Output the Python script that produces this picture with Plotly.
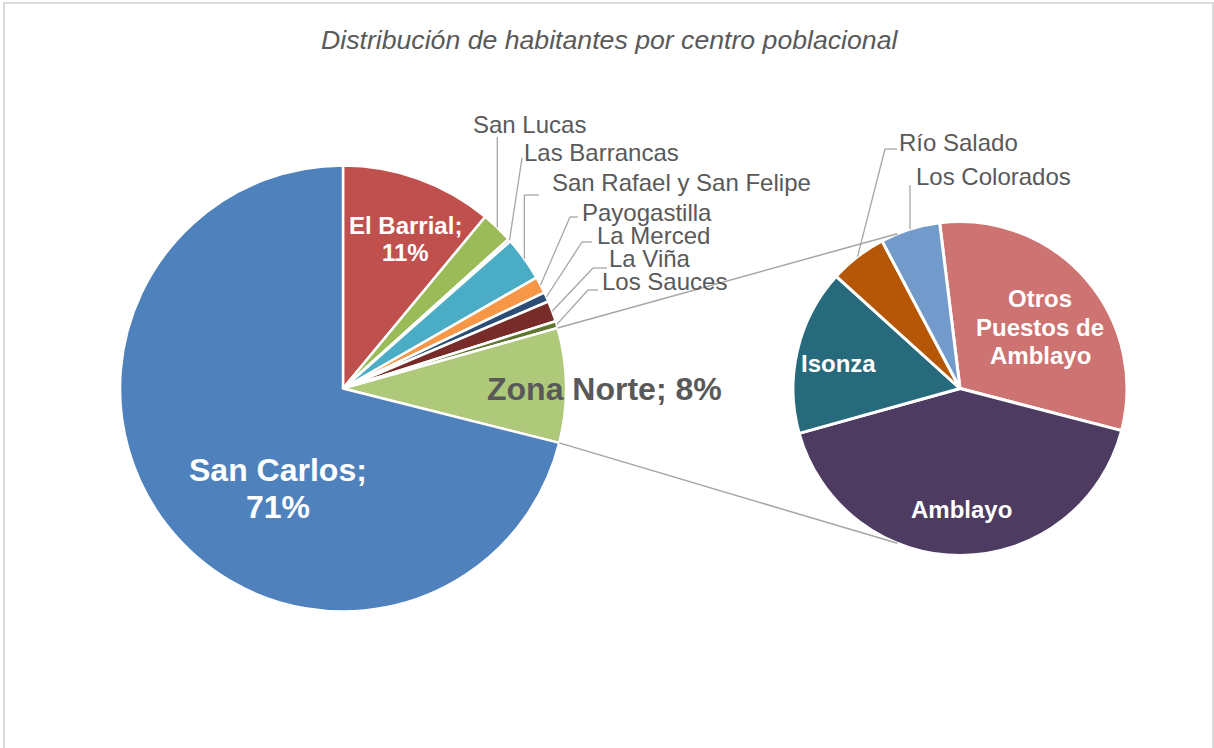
import math
import plotly.graph_objects as go

# Habitantes por centro poblacional (% del total)
centros = ["San Carlos", "El Barrial", "San Lucas", "Las Barrancas",
           "San Rafael y San Felipe", "Payogastilla", "La Merced",
           "La Viña", "Los Sauces"]
centros_pct = [71.0, 11.0, 2.3, 0.2, 3.2, 1.2, 0.7, 1.5, 0.5]

# Desglose de la Zona Norte (% del total)
zona_norte = ["Otros Puestos de Amblayo", "Amblayo", "Isonza",
              "Río Salado", "Los Colorados"]
zona_norte_pct = [2.57, 3.45, 1.33, 0.46, 0.48]

colores = {
    "San Carlos": "#4F81BD", "El Barrial": "#C0504D", "San Lucas": "#9BBB59",
    "Las Barrancas": "#8064A2", "San Rafael y San Felipe": "#4BACC6",
    "Payogastilla": "#F79646", "La Merced": "#2C4D75", "La Viña": "#772C2A",
    "Los Sauces": "#5F7530", "Zona Norte": "#AFC97A",
    "Amblayo": "#4D3B62", "Isonza": "#276A7C", "Río Salado": "#B65708",
    "Los Colorados": "#729ACA", "Otros Puestos de Amblayo": "#CD7371",
}

W, H = 1214, 748
FONT = "Liberation Sans, Arial, sans-serif"
GRAY_TXT = "#595959"
GRAY_LINE = "#A6A6A6"

MAIN_C, MAIN_R = (343.0, 388.5), 223.0
SEC_C, SEC_R = (960.0, 388.5), 167.0
SEC_ROT = -7.0


def paper(x, y):
    return x / W, 1 - y / H


def domain(c, r):
    x0, y1 = paper(c[0] - r, c[1] - r)
    x1, y0 = paper(c[0] + r, c[1] + r)
    return dict(x=[x0, x1], y=[y0, y1])


def edge(c, r, deg):
    a = math.radians(deg)
    return c[0] + r * math.sin(a), c[1] - r * math.cos(a)


def slice_angles(names, values, rotation=0.0):
    total = sum(values)
    out, a = {}, rotation
    for n, v in zip(names, values):
        span = 360.0 * v / total
        out[n] = (a, a + span / 2, a + span)
        a += span
    return out


# main pie: El Barrial first at 12 o'clock, clockwise; Zona Norte aggregated
main_names = centros[1:] + ["Zona Norte"] + centros[:1]
main_vals = centros_pct[1:] + [sum(zona_norte_pct)] + centros_pct[:1]
main_total = sum(main_vals)
main_ang = slice_angles(main_names, main_vals)
sec_ang = slice_angles(zona_norte, zona_norte_pct, SEC_ROT)


def pct(name):
    return f"{round(100 * main_vals[main_names.index(name)] / main_total)}%"


fig = go.Figure()
fig.add_trace(go.Pie(
    labels=main_names, values=main_vals, sort=False, direction="clockwise",
    rotation=0, textinfo="none", showlegend=False,
    marker=dict(colors=[colores[n] for n in main_names],
                line=dict(color="white", width=2.5)),
    domain=domain(MAIN_C, MAIN_R),
))
fig.add_trace(go.Pie(
    labels=zona_norte, values=zona_norte_pct, sort=False,
    direction="clockwise", rotation=SEC_ROT, textinfo="none", showlegend=False,
    marker=dict(colors=[colores[n] for n in zona_norte],
                line=dict(color="white", width=3)),
    domain=domain(SEC_C, SEC_R),
))

shapes = []


def seg(p, q, color=GRAY_LINE, width=1.3):
    x0, y0 = paper(*p)
    x1, y1 = paper(*q)
    shapes.append(dict(type="line", xref="paper", yref="paper",
                       x0=x0, y0=y0, x1=x1, y1=y1,
                       line=dict(color=color, width=width)))


# connector lines from Zona Norte to the secondary pie
zn_start, _, zn_end = main_ang["Zona Norte"]
seg(edge(MAIN_C, MAIN_R, zn_start), edge(SEC_C, SEC_R, 338), width=1.5)
seg(edge(MAIN_C, MAIN_R, zn_end), edge(SEC_C, SEC_R, 202), width=1.5)

annotations = []


def text(x, y, s, size, color=GRAY_TXT, bold=False, italic=False,
         anchor="center"):
    px, py = paper(x, y)
    if bold:
        s = f"<b>{s}</b>"
    if italic:
        s = f"<i>{s}</i>"
    annotations.append(dict(x=px, y=py, xref="paper", yref="paper", text=s,
                            showarrow=False, xanchor=anchor, yanchor="middle",
                            font=dict(family=FONT, size=size, color=color)))


# outside labels with leader lines: elbow points then label position
callouts_main = {
    "San Lucas": ([(None, 137)], (529, 124, "center")),
    "Las Barrancas": ([(522, 158)], (522, 152, "left")),
    "San Rafael y San Felipe": ([(None, 195), (539, 195)], (550, 183, "left")),
    "Payogastilla": ([(570, 217), (578, 217)], (580, 212, "left")),
    "La Merced": ([(582, 242), (592, 242)], (595, 235, "left")),
    "La Viña": ([(593, 268), (607, 268)], (607, 259, "left")),
    "Los Sauces": ([(588, 290), (598, 290)], (600, 282, "left")),
}
callouts_sec = {
    "Río Salado": ([(885, 149), (897, 149)], (897, 142, "left")),
    "Los Colorados": ([(None, 185)], (914, 176, "left")),
}


def draw_callouts(spec, angles, c, r):
    for name, (elbows, (tx, ty, anc)) in spec.items():
        p = edge(c, r, angles[name][1])
        for ex, ey in elbows:
            q = (p[0] if ex is None else ex, ey)
            seg(p, q)
            p = q
        text(tx, ty, name, 24, anchor=anc)


draw_callouts(callouts_main, main_ang, MAIN_C, MAIN_R)
draw_callouts(callouts_sec, sec_ang, SEC_C, SEC_R)

# labels inside the slices
text(405, 225, "El Barrial;", 24, "white", bold=True)
text(405, 252, pct("El Barrial"), 24, "white", bold=True)
text(278, 470, "San Carlos;", 32, "white", bold=True)
text(278, 507, pct("San Carlos"), 32, "white", bold=True)
text(604, 389, f"Zona Norte; {pct('Zona Norte')}", 32, GRAY_TXT, bold=True)
text(839, 363, "Isonza", 24, "white", bold=True)
text(961, 510, "Amblayo", 24, "white", bold=True)
for i, line in enumerate(["Otros", "Puestos de", "Amblayo"]):
    text(1040, 299 + 28 * i, line, 24, "white", bold=True)

# title
text(610, 40, "Distribución de habitantes por centro poblacional", 26.67,
     GRAY_TXT, italic=True)

# chart-area border
bx0, by0 = paper(4, 3)
bx1, by1 = paper(1213, 770)
shapes.append(dict(type="rect", xref="paper", yref="paper", x0=bx0, y0=by0,
                   x1=bx1, y1=by1, line=dict(color="#D9D9D9", width=2),
                   layer="below"))

fig.update_layout(
    width=W, height=H, margin=dict(l=0, r=0, t=0, b=0),
    paper_bgcolor="white", plot_bgcolor="white",
    shapes=shapes, annotations=annotations, showlegend=False,
)

fig.write_html("out.html")
